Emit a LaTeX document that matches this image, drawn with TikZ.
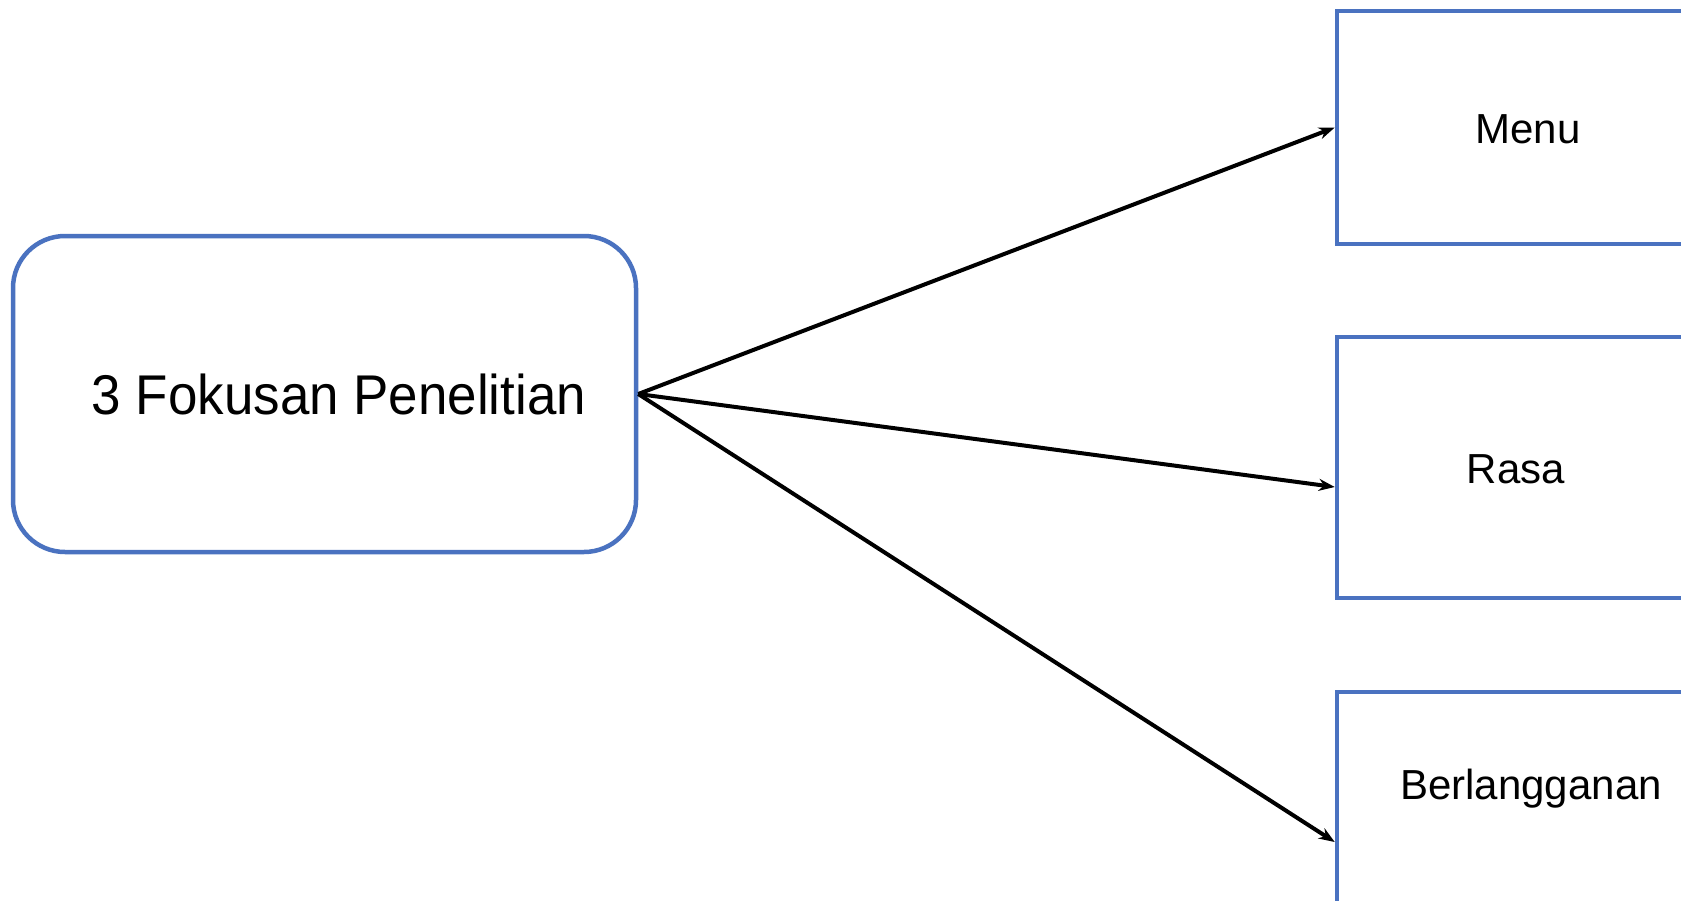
\documentclass[tikz,border=0pt]{standalone}
\usepackage{fontspec}
\setmainfont{Liberation Sans}
\usetikzlibrary{arrows.meta}
\definecolor{boxblue}{HTML}{4A72C0}
\begin{document}
\begin{tikzpicture}[x=1pt,y=-1pt,
  bluebox/.style={draw=boxblue,line width=4.5pt,fill=white,inner sep=0pt},
  lbl/.style={inner sep=0pt,anchor=base,font=\fontsize{42}{50}\selectfont},
  conn/.style={line width=4pt,-{Stealth[length=16pt,width=12pt]}}]
\useasboundingbox (0,0) rectangle (1681,900);
\clip (0,0) rectangle (1681,900);
\fill[white] (0,0) rectangle (1681,900);
\node[bluebox,rounded corners=52pt,minimum width=623pt,minimum height=316pt] (fokus) at (324.5,394) {};
\node[lbl,font=\fontsize{56}{66}\selectfont] (fokustext) at (339,414) {\scalebox{0.945}[1]{3 Fokusan Penelitian}};
\node[bluebox,minimum width=400pt,minimum height=233pt] (menu) at (1537,127.5) {};
\node[lbl] (menutext) at (1528,143) {Menu};
\node[bluebox,minimum width=400pt,minimum height=261pt] (rasa) at (1537,467.5) {};
\node[lbl] (rasatext) at (1516,483) {Rasa};
\node[bluebox,minimum width=400pt,minimum height=260pt] (berl) at (1537,822) {};
\node[lbl] (berltext) at (1531,799) {Berlangganan};
\draw[conn] (fokus.east) -- (menu.west);
\draw[conn] (fokus.east) -- ([yshift=-19.5pt]rasa.west);
\draw[conn] (fokus.east) -- ([yshift=-20pt]berl.west);
\end{tikzpicture}
\end{document}
